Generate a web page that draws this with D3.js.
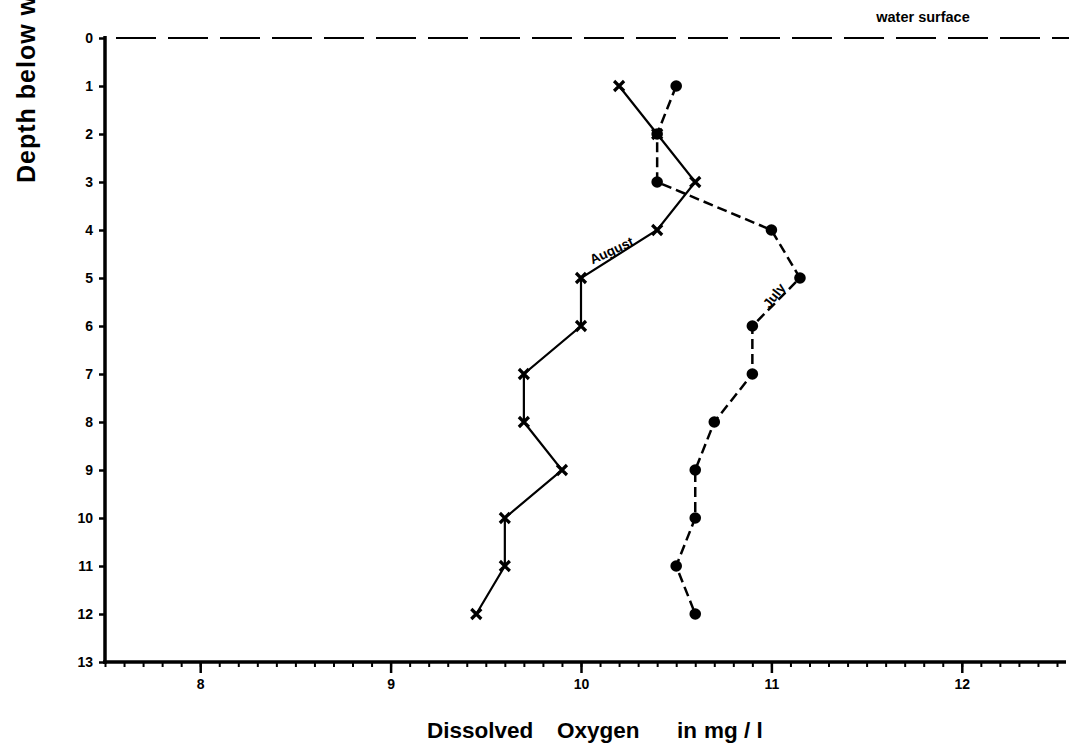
<!DOCTYPE html>
<html>
<head>
<meta charset="utf-8">
<script src="https://cdn.jsdelivr.net/npm/d3@7"></script>
<style>
  body { margin: 0; background: #fff; }
  text { font-family: "Liberation Sans", Arial, sans-serif; font-weight: bold; fill: #000; }
</style>
</head>
<body>
<div id="chart"></div>
<script>
// depth in m
const depths = [1, 2, 3, 4, 5, 6, 7, 8, 9, 10, 11, 12]
// dissolved oxygen in mg/l
const july = [10.5, 10.4, 10.4, 11.0, 11.15, 10.9, 10.9, 10.7, 10.6, 10.6, 10.5, 10.6]
const august = [10.2, 10.4, 10.6, 10.4, 10.0, 10.0, 9.7, 9.7, 9.9, 9.6, 9.6, 9.45]
const xTicks = [8, 9, 10, 11, 12]
const yTicks = [0, 1, 2, 3, 4, 5, 6, 7, 8, 9, 10, 11, 12, 13]

const width = 1069, height = 750

const svg = d3.select('#chart').append('svg')
  .attr('width', width)
  .attr('height', height)

const x = d3.scaleLinear().domain([7.5, 12.5]).range([105, 1057])
const y = d3.scaleLinear().domain([0, 13]).range([38, 662])

// x axis: minor ticks every 0.1, major on whole numbers
const minor = d3.range(75, 126).map(d => d / 10)
svg.append('g')
  .attr('transform', `translate(0, ${y(13)})`)
  .call(d3.axisBottom(x).tickValues(minor).tickSize(5).tickFormat(''))
  .call(g => g.select('.domain').remove())
  .selectAll('line').attr('stroke-width', 2)

const xAxis = svg.append('g')
  .attr('transform', `translate(0, ${y(13)})`)
  .call(d3.axisBottom(x).tickValues(xTicks).tickSize(11).tickPadding(6).tickFormat(d3.format('d')))
xAxis.select('.domain').remove()
xAxis.selectAll('line').attr('stroke-width', 2.5)
xAxis.selectAll('text').style('font-size', '14px')

svg.append('line')
  .attr('x1', 103).attr('x2', 1066)
  .attr('y1', y(13)).attr('y2', y(13))
  .attr('stroke', '#000').attr('stroke-width', 3.5)

// y axis
const yAxis = svg.append('g')
  .attr('transform', `translate(105, 0)`)
  .call(d3.axisLeft(y).tickValues(yTicks).tickSize(6).tickPadding(6))
yAxis.select('.domain').remove()
yAxis.selectAll('line').attr('stroke-width', 2.5)
yAxis.selectAll('text').style('font-size', '14px')

svg.append('line')
  .attr('x1', 105).attr('x2', 105)
  .attr('y1', y(0) - 2).attr('y2', y(13) + 2)
  .attr('stroke', '#000').attr('stroke-width', 3.5)

// water surface
svg.append('line')
  .attr('x1', 116).attr('x2', width)
  .attr('y1', y(0)).attr('y2', y(0))
  .attr('stroke', '#000').attr('stroke-width', 2)
  .attr('stroke-dasharray', '40,12')

svg.append('text')
  .attr('x', 923).attr('y', 22)
  .attr('text-anchor', 'middle')
  .style('font-size', '14.5px')
  .text('water surface')

// axis titles
const xTitle = [['Dissolved', 427], ['Oxygen', 557], ['in', 677], ['mg / l', 704]]
svg.selectAll('.xtitle')
  .data(xTitle)
  .enter()
  .append('text')
  .attr('class', 'xtitle')
  .attr('x', d => d[1])
  .attr('y', 738)
  .style('font-size', '22.5px')
  .text(d => d[0])

svg.append('text')
  .attr('transform', 'translate(35, 183) rotate(-90)')
  .attr('text-anchor', 'start')
  .style('font-size', '25px')
  .style('letter-spacing', '1px')
  .text('Depth below water surface in m')

// lines
const julyLine = d3.line().x((d, i) => x(july[i])).y(d => y(d))
const augLine = d3.line().x((d, i) => x(august[i])).y(d => y(d))

svg.append('path')
  .attr('d', julyLine(depths))
  .attr('fill', 'none')
  .attr('stroke', '#000')
  .attr('stroke-width', 2.5)
  .attr('stroke-dasharray', '10,5')

svg.append('path')
  .attr('d', augLine(depths))
  .attr('fill', 'none')
  .attr('stroke', '#000')
  .attr('stroke-width', 2.2)

// July dots
svg.selectAll('.jdot')
  .data(depths)
  .enter()
  .append('circle')
  .attr('class', 'jdot')
  .attr('cx', (d, i) => x(july[i]))
  .attr('cy', d => y(d))
  .attr('r', 5.8)
  .attr('fill', '#000')

// August crosses
svg.selectAll('.across')
  .data(depths)
  .enter()
  .append('path')
  .attr('class', 'across')
  .attr('transform', (d, i) => `translate(${x(august[i])}, ${y(d)})`)
  .attr('d', 'M-5,-5L5,5M-5,5L5,-5')
  .attr('stroke', '#000')
  .attr('stroke-width', 3.2)

// series labels
svg.append('text')
  .attr('transform', `translate(${x(10.06)}, ${y(4.72)}) rotate(-25)`)
  .style('font-size', '13.5px')
  .text('August')

svg.append('text')
  .attr('transform', `translate(${x(10.99)}, ${y(5.65)}) rotate(-52)`)
  .style('font-size', '13.5px')
  .text('July')
</script>
</body>
</html>
